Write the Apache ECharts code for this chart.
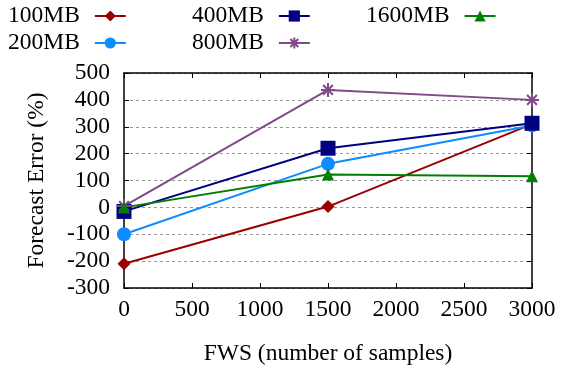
<!DOCTYPE html>
<html><head><meta charset="utf-8">
<script src="https://cdn.jsdelivr.net/npm/echarts@6/dist/echarts.min.js"></script>
<style>html,body{margin:0;padding:0;background:#fff}#c{width:561px;height:371px}</style>
</head><body><div id="c"></div>
<script>
const xValues = [0, 1500, 3000];
const seriesNames = ['100MB', '200MB', '400MB', '800MB', '1600MB'];
const s100 = [-210, 3, 310];
const s200 = [-100, 162, 305];
const s400 = [-15, 220, 313];
const s800 = [5, 437, 400];
const s1600 = [0, 122, 116];
const yTicks = [-300, -200, -100, 0, 100, 200, 300, 400, 500];
const xTicks = [0, 500, 1000, 1500, 2000, 2500, 3000];

const FONT = '"Liberation Serif", "DejaVu Serif", serif';
const FS = 23.5;
const star = 'path://M0,5L10,5M5,0L5,10M1.5,1.5L8.5,8.5M8.5,1.5L1.5,8.5';
const styles = [
  {color: '#990000', symbol: 'diamond', size: 13},
  {color: '#0d8bff', symbol: 'circle', size: 14},
  {color: '#000080', symbol: 'rect', size: 15},
  {color: '#804a88', symbol: star, size: 14},
  {color: '#008000', symbol: 'triangle', size: 12}
];
const allData = [s100, s200, s400, s800, s1600];

const series = allData.map((vals, i) => ({
  name: seriesNames[i],
  type: 'line',
  data: vals.map((v, j) => [xValues[j], v]),
  symbol: styles[i].symbol,
  symbolSize: styles[i].size,
  lineStyle: {color: styles[i].color, width: 2},
  itemStyle: i === 3 ? {color: styles[i].color, borderColor: styles[i].color, borderWidth: 2} : {color: styles[i].color},
  emphasis: {disabled: true},
  animation: false,
  z: 3
}));

const legendCommon = {
  orient: 'vertical', align: 'right', itemWidth: 31, itemHeight: 14, itemGap: 3,
  textStyle: {fontFamily: FONT, fontSize: FS, color: '#000', padding: [0, 10, 0, 0]},
  selectedMode: false, padding: 0
};
const chart = echarts.init(document.getElementById('c'), null, {renderer: 'canvas'});
chart.setOption({
  animation: false,
  grid: {left: 124, right: 29, top: 73, bottom: 83},
  legend: [
    Object.assign({}, legendCommon, {data: ['100MB', '200MB'], left: 8, top: 4}),
    Object.assign({}, legendCommon, {data: ['400MB', '800MB'], left: 192, top: 4}),
    Object.assign({}, legendCommon, {data: ['1600MB'], left: 366, top: 4})
  ],
  xAxis: [{
    type: 'value', min: 0, max: 3000, interval: 500,
    name: 'FWS (number of samples)', nameLocation: 'middle', nameGap: 54,
    nameTextStyle: {fontFamily: FONT, fontSize: FS, color: '#000'},
    axisLine: {show: true, onZero: false, lineStyle: {color: '#000', width: 1.5}},
    axisTick: {show: true, inside: true, length: 5, lineStyle: {color: '#000'}},
    axisLabel: {fontFamily: FONT, fontSize: FS, color: '#000', margin: 10, formatter: v => String(v)},
    splitLine: {show: false}
  }, {
    type: 'value', min: 0, max: 3000, interval: 500, position: 'top',
    axisLine: {show: true, onZero: false, lineStyle: {color: '#000', width: 1.5}},
    axisTick: {show: true, inside: true, length: 5, lineStyle: {color: '#000'}},
    axisLabel: {show: false}, splitLine: {show: false}
  }],
  yAxis: [{
    type: 'value', min: -300, max: 500, interval: 100,
    name: 'Forecast Error (%)', nameLocation: 'middle', nameGap: 75,
    nameTextStyle: {fontFamily: FONT, fontSize: FS, color: '#000'},
    axisLine: {show: true, onZero: false, lineStyle: {color: '#000', width: 1.5}},
    axisTick: {show: true, inside: true, length: 5, lineStyle: {color: '#000'}},
    axisLabel: {fontFamily: FONT, fontSize: FS, color: '#000', margin: 14},
    splitLine: {show: true, lineStyle: {color: '#999', type: [3, 3], width: 1}}
  }, {
    type: 'value', min: -300, max: 500, interval: 100, position: 'right',
    axisLine: {show: true, onZero: false, lineStyle: {color: '#000', width: 1.5}},
    axisTick: {show: true, inside: true, length: 5, lineStyle: {color: '#000'}},
    axisLabel: {show: false}, splitLine: {show: false}
  }],
  series: series
});
</script></body></html>
